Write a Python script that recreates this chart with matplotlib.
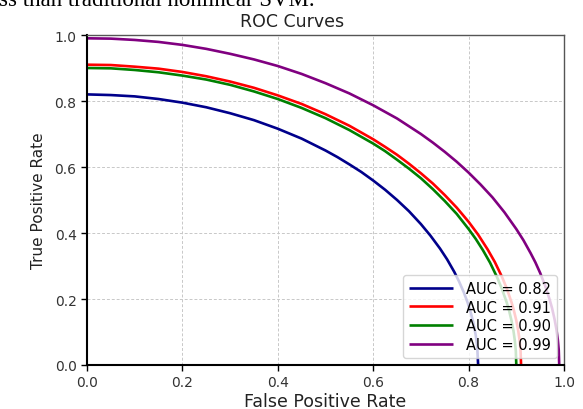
import matplotlib
matplotlib.use("Agg")
import matplotlib.pyplot as plt

# ---- data ----
labels = ["AUC = 0.82", "AUC = 0.91", "AUC = 0.90", "AUC = 0.99"]
colors = ["darkblue", "red", "green", "purple"]

fpr_a = [0.0, 0.05, 0.1, 0.15, 0.2, 0.25, 0.3, 0.35, 0.4, 0.45, 0.5, 0.525, 0.55, 0.575, 0.6,
         0.625, 0.65, 0.675, 0.7, 0.72, 0.74, 0.755, 0.77, 0.78, 0.79, 0.798, 0.805, 0.81,
         0.815, 0.818, 0.82]
tpr_a = [0.820, 0.818, 0.814, 0.806, 0.795, 0.781, 0.763, 0.742, 0.716, 0.686, 0.650, 0.630,
         0.608, 0.585, 0.559, 0.531, 0.500, 0.466, 0.427, 0.392, 0.353, 0.320, 0.282, 0.253,
         0.220, 0.189, 0.156, 0.128, 0.090, 0.057, 0.0]

fpr_b = [0.0, 0.05, 0.1, 0.15, 0.2, 0.25, 0.3, 0.35, 0.4, 0.45, 0.5, 0.55, 0.6, 0.625, 0.65,
         0.675, 0.7, 0.725, 0.75, 0.775, 0.8, 0.82, 0.84, 0.855, 0.87, 0.88, 0.89, 0.895, 0.90,
         0.904, 0.907, 0.909, 0.91]
tpr_b = [0.910, 0.909, 0.904, 0.898, 0.888, 0.875, 0.859, 0.840, 0.817, 0.791, 0.760, 0.725,
         0.684, 0.661, 0.637, 0.610, 0.581, 0.550, 0.515, 0.477, 0.434, 0.395, 0.350, 0.312,
         0.267, 0.232, 0.190, 0.165, 0.135, 0.104, 0.074, 0.042, 0.0]

fpr_c = [0.0, 0.05, 0.1, 0.15, 0.2, 0.25, 0.3, 0.35, 0.4, 0.45, 0.5, 0.55, 0.6, 0.625, 0.65,
         0.675, 0.7, 0.725, 0.75, 0.775, 0.8, 0.815, 0.83, 0.845, 0.86, 0.87, 0.88, 0.885, 0.89,
         0.894, 0.897, 0.899, 0.90]
tpr_c = [0.900, 0.899, 0.894, 0.887, 0.877, 0.865, 0.849, 0.829, 0.806, 0.779, 0.748, 0.712,
         0.671, 0.648, 0.622, 0.595, 0.566, 0.533, 0.497, 0.458, 0.412, 0.382, 0.348, 0.310,
         0.265, 0.230, 0.189, 0.164, 0.134, 0.104, 0.073, 0.042, 0.0]

fpr_d = [0.0, 0.05, 0.1, 0.15, 0.2, 0.25, 0.3, 0.35, 0.4, 0.45, 0.5, 0.55, 0.6, 0.65, 0.7,
         0.725, 0.75, 0.775, 0.8, 0.825, 0.85, 0.875, 0.9, 0.915, 0.93, 0.94, 0.95, 0.96, 0.97,
         0.975, 0.98, 0.984, 0.987, 0.989, 0.99]
tpr_d = [0.990, 0.989, 0.985, 0.979, 0.970, 0.958, 0.943, 0.926, 0.906, 0.882, 0.854, 0.823,
         0.787, 0.747, 0.700, 0.674, 0.646, 0.616, 0.583, 0.547, 0.508, 0.463, 0.412, 0.378,
         0.339, 0.311, 0.279, 0.242, 0.198, 0.172, 0.140, 0.109, 0.077, 0.045, 0.0]

ticks = [0.0, 0.2, 0.4, 0.6, 0.8, 1.0]
tick_labels = ["0.0", "0.2", "0.4", "0.6", "0.8", "1.0"]
caption = "ss than traditional nonlinear SVM."

fig = plt.figure(figsize=(5.83, 4.10), dpi=100)
ax = fig.add_axes([87 / 583, 1 - 366 / 410, 477 / 583, 330 / 410])

series = [(fpr_a, tpr_a), (fpr_b, tpr_b), (fpr_c, tpr_c), (fpr_d, tpr_d)]
for (x, y), c, lab in zip(series, colors, labels):
    ax.plot(x, y, color=c, lw=1.9, label=lab, solid_capstyle="butt", solid_joinstyle="round")

ax.set_xlim(0, 1)
ax.set_ylim(0, 1)
ax.set_xticks(ticks)
ax.set_xticklabels(tick_labels)
ax.set_yticks(ticks)
ax.set_yticklabels(tick_labels)
ax.tick_params(axis="both", labelsize=10, labelcolor="#333333", length=4, width=1.0, color="black")
ax.grid(True, linestyle=(0, (3, 2)), color="#c8c8c8", lw=0.7)
ax.set_axisbelow(True)

for s in ["left", "bottom"]:
    ax.spines[s].set_color("black")
    ax.spines[s].set_linewidth(1.5)
for s in ["top", "right"]:
    ax.spines[s].set_color("#555555")
    ax.spines[s].set_linewidth(1.0)

ax.set_title("ROC Curves", fontsize=12.5, color="#222222", x=0.43, pad=6.5)
ax.set_xlabel("False Positive Rate", fontsize=12.5, color="#222222", labelpad=2)
ax.set_ylabel("True Positive Rate", fontsize=11, color="#222222", labelpad=6)

leg = ax.legend(loc="lower right", fontsize=10.5, handlelength=3.0, handletextpad=0.9,
                labelspacing=0.25, framealpha=0.8, borderaxespad=0.5)
leg.get_frame().set_edgecolor("#cccccc")

fig.text(-0.002, 1 - 6 / 410, caption, family="Liberation Serif", fontsize=16.5,
         va="baseline", ha="left", color="black")

fig.savefig("out.png", dpi=100)
